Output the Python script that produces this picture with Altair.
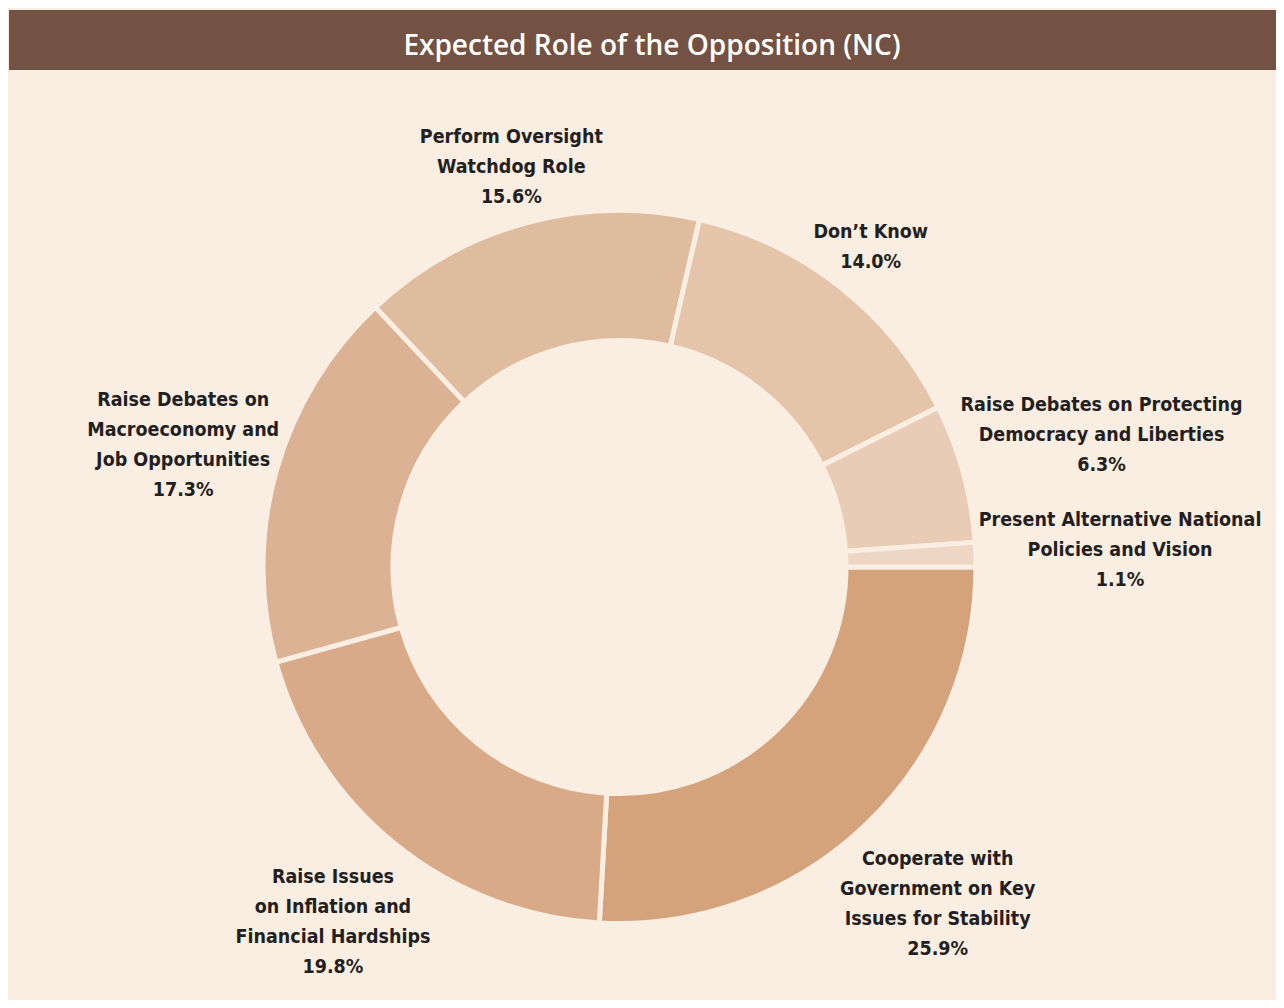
import math
import altair as alt
import pandas as pd

title = "Expected Role of the Opposition (NC)"
labels = [
    "Cooperate with\nGovernment on Key\nIssues for Stability",
    "Raise Issues\non Inflation and\nFinancial Hardships",
    "Raise Debates on\nMacroeconomy and\nJob Opportunities",
    "Perform Oversight\nWatchdog Role",
    "Don’t Know",
    "Raise Debates on Protecting\nDemocracy and Liberties",
    "Present Alternative National\nPolicies and Vision",
]
values = [25.9, 19.8, 17.3, 15.6, 14.0, 6.3, 1.1]
colors = ["#D4A27B", "#D8AA88", "#DCB294", "#E0BC9F", "#E5C5AA", "#E8CCB5", "#EDD6C4"]

BG = "#FAEDE2"
BAR = "#735243"
TXT = "#231F20"
W, H = 1268, 992
CX, CY = 611.5, 559
R_OUT, R_IN = 356.5, 226.5
CW, LH, LINE = 10.4, 26.0, 30

rows = []
for i, (lab, v) in enumerate(zip(labels, values)):
    lines = lab.split("\n")
    rows.append({
        "category": lines[0],
        "value": v,
        "order": i,
        "text": lab + "\n" + f"{v:.1f}%",
        "maxchars": max(len(s) for s in lines),
        "nlines": len(lines) + 1,
    })
df = pd.DataFrame(rows)

color_scale = alt.Scale(domain=[r["category"] for r in rows], range=colors)
theta_scale = alt.Scale(range=[math.pi / 2, math.pi / 2 + 2 * math.pi])

base = alt.Chart(df)

arcs = base.mark_arc(innerRadius=R_IN, outerRadius=R_OUT, stroke=BG, strokeWidth=5).encode(
    theta=alt.Theta("value:Q", stack=True, scale=theta_scale),
    color=alt.Color("category:N", scale=color_scale, legend=None),
    order=alt.Order("order:Q"),
    x=alt.value(CX),
    y=alt.value(CY),
)

label_layer = (
    base.transform_joinaggregate(total="sum(value)")
    .transform_window(cum="sum(value)", sort=[alt.SortField("order")], frame=[None, 0])
    .transform_calculate(a="PI/2 + 2*PI*(datum.cum - datum.value/2)/datum.total")
    .transform_calculate(
        r=f"{R_OUT - 2.5} + datum.maxchars*{CW/2}*abs(sin(datum.a)) + datum.nlines*{LH/2}*abs(cos(datum.a))"
    )
    .transform_calculate(
        lx=f"{CX} + datum.r*sin(datum.a)",
        ly=f"{CY} - datum.r*cos(datum.a) - (datum.nlines - 1)*{LINE/2}",
    )
    .mark_text(
        font="DejaVu Sans Condensed",
        fontWeight="bold",
        fontSize=19.5,
        color=TXT,
        align="center",
        baseline="middle",
        lineBreak="\n",
        lineHeight=LINE,
    )
    .encode(
        x=alt.X("lx:Q", scale=None, axis=None),
        y=alt.Y("ly:Q", scale=None, axis=None),
        text="text:N",
    )
)

tdf = pd.DataFrame({"t": [title]})
bar = alt.Chart(tdf).mark_rect(color=BAR).encode(
    x=alt.value(1), x2=alt.value(W), y=alt.value(2), y2=alt.value(62)
)
title_text = alt.Chart(tdf).mark_text(
    font="Open Sans", fontWeight=600, fontSize=28, color="white", align="center", baseline="middle"
).encode(x=alt.value(644), y=alt.value(39), text="t:N")

chart = (
    alt.layer(bar, title_text, arcs, label_layer)
    .properties(
        width=W,
        height=H,
        background=BG,
        padding=0,
        autosize=alt.AutoSizeParams(type="fit", contains="padding"),
    )
    .configure_view(stroke=None)
)

chart.save("out.html", embed_options={"renderer": "svg", "actions": False})
